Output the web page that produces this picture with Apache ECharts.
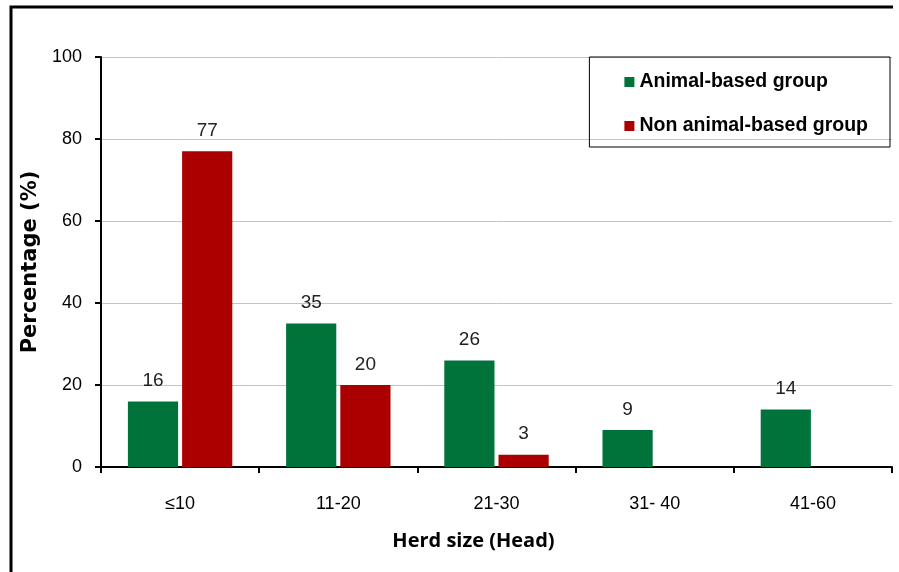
<!DOCTYPE html>
<html><head><meta charset="utf-8">
<script src="https://cdn.jsdelivr.net/npm/echarts@6/dist/echarts.min.js"></script>
<style>html,body{margin:0;padding:0;background:#fff}#c{width:899px;height:572px}</style>
</head><body><div id="c"></div>
<script>
const categories = ['≤10', '11-20', '21-30', '31- 40', '41-60'];
const animalBased = [16, 35, 26, 9, 14];
const nonAnimalBased = [77, 20, 3, null, null];
const seriesNames = ['Animal-based group', 'Non animal-based group'];
const yTicks = [0, 20, 40, 60, 80, 100];

const chart = echarts.init(document.getElementById('c'));
const sans = '"Liberation Sans", Arial, sans-serif';
const labelStyle = {show: true, position: 'top', distance: 11, color: '#222', fontSize: 19, fontFamily: sans};
chart.setOption({
  animation: false,
  backgroundColor: '#fff',
  graphic: [
    {type: 'polyline', shape: {points: [[11, 572], [11, 7], [893, 7]]}, style: {stroke: '#000', lineWidth: 3, fill: null}}
  ],
  grid: {left: 101, right: 7, top: 57, bottom: 105, containLabel: false},
  legend: {
    orient: 'vertical', right: 9, top: 57,
    data: seriesNames,
    itemWidth: 10, itemHeight: 10, itemGap: 24,
    padding: [15, 22, 11, 35],
    borderColor: '#000', borderWidth: 1,
    icon: 'rect',
    textStyle: {fontSize: 19.5, fontWeight: 'bold', color: '#000', fontFamily: sans}
  },
  xAxis: {
    type: 'category', data: categories,
    name: 'Herd size (Head)', nameLocation: 'middle', nameGap: 64,
    nameTextStyle: {fontSize: 20, fontWeight: 'bold', color: '#000', fontFamily: '"Open Sans", Lato, sans-serif', padding: [0, 46, 0, 0]},
    axisLine: {lineStyle: {color: '#000', width: 2}},
    axisTick: {show: true, length: 6, lineStyle: {color: '#000', width: 2}},
    axisLabel: {fontSize: 18, color: '#000', margin: 28, fontFamily: sans}
  },
  yAxis: {
    type: 'value', min: 0, max: 100, interval: 20,
    name: 'Percentage (%)', nameLocation: 'middle', nameGap: 56,
    nameTextStyle: {fontSize: 21, fontWeight: 'bold', color: '#000', fontFamily: '"DejaVu Sans", sans-serif'},
    axisLine: {show: true, lineStyle: {color: '#000', width: 2}},
    axisTick: {show: true, length: 6, lineStyle: {color: '#000', width: 2}},
    axisLabel: {fontSize: 18, color: '#000', margin: 19, fontFamily: sans,
      formatter: v => yTicks.includes(v) ? String(v) : ''},
    splitLine: {lineStyle: {color: '#c4c4c4', width: 1}}
  },
  series: [
    {name: seriesNames[0], type: 'bar', data: animalBased, barGap: '8%', barCategoryGap: '34%',
      itemStyle: {color: '#00733a'}, label: labelStyle},
    {name: seriesNames[1], type: 'bar', data: nonAnimalBased,
      itemStyle: {color: '#aa0000'}, label: labelStyle}
  ]
});
</script></body></html>
